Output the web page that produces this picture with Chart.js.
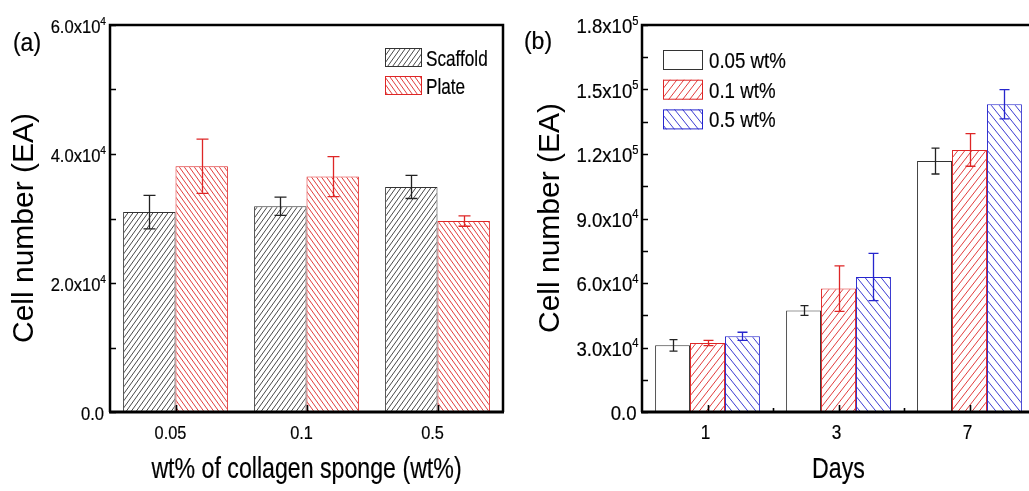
<!DOCTYPE html>
<html>
<head>
<meta charset="utf-8">
<script src="https://cdn.jsdelivr.net/npm/chart.js@4.4.1/dist/chart.umd.min.js"></script>
<style>
  html, body { margin: 0; padding: 0; background: #fff; overflow: hidden; }
  #wrap { position: relative; width: 1029px; height: 491px; overflow: hidden; background: #fff; }
  #ca { position: absolute; left: 0; top: 0; }
  #cb { position: absolute; left: 515px; top: 0; }
</style>
</head>
<body>
<div id="wrap">
  <canvas id="ca" width="515" height="491"></canvas>
  <canvas id="cb" width="530" height="491"></canvas>
</div>
<script>
// ---- (a) cell number vs collagen sponge concentration ----
const concCategories = ['0.05', '0.1', '0.5'];
const scaffoldCells = [31000, 31900, 34900];
const scaffoldErr   = [2600, 1400, 1800];
const plateCells    = [38100, 36500, 29600];
const plateErr      = [4200, 3100, 800];
const concTickValues = [0, 20000, 40000, 60000];
const concTickLabels = ['0.0', '2.0x10⁴', '4.0x10⁴', '6.0x10⁴'];

// ---- (b) cell number vs culture days ----
const dayCategories = ['1', '3', '7'];
const cells005 = [31000, 47200, 116700];
const err005   = [2700, 2300, 6000];
const cells01  = [32100, 57400, 121900];
const err01    = [1200, 10600, 7600];
const cells05  = [35200, 62800, 143100];
const err05    = [1900, 11000, 6800];
const dayTickValues = [0, 30000, 60000, 90000, 120000, 150000, 180000];
const dayTickLabels = ['0.0', '3.0x10⁴', '6.0x10⁴', '9.0x10⁴', '1.2x10⁵', '1.5x10⁵', '1.8x10⁵'];

const FONT = "'Liberation Sans', Arial, sans-serif";
const RED = 'rgb(222,38,38)';
const BLUE = 'rgb(38,38,205)';
const DARK = '#333';
const SUP = '⁰¹²³⁴⁵⁶⁷⁸⁹';

Chart.defaults.font.family = FONT;
Chart.defaults.color = '#000';

// diagonal hatch fill: '/' rises to the right, '\' falls to the right
function hatch(ctx, color, dir, w, h) {
  const c = document.createElement('canvas');
  c.width = w; c.height = h;
  const g = c.getContext('2d');
  g.fillStyle = '#fff';
  g.fillRect(0, 0, w, h);
  g.strokeStyle = color;
  g.lineWidth = 0.9;
  g.beginPath();
  for (let k = -1; k <= 1; k++) {
    if (dir === '/') { g.moveTo(k * w, h); g.lineTo((k + 1) * w, 0); }
    else { g.moveTo(k * w, 0); g.lineTo((k + 1) * w, h); }
  }
  g.stroke();
  return ctx.createPattern(c, 'repeat');
}

// horizontally condensed text, lightly emboldened
function sqText(ctx, text, x, y, size, sx, align) {
  ctx.save();
  ctx.translate(x, y);
  ctx.scale(sx, 1);
  ctx.font = size + 'px ' + FONT;
  ctx.textAlign = align;
  ctx.textBaseline = 'alphabetic';
  ctx.fillStyle = '#000';
  ctx.strokeStyle = '#000';
  ctx.lineWidth = 0.2;
  ctx.fillText(text, 0, 0);
  ctx.strokeText(text, 0, 0);
  ctx.restore();
}
function sqWidth(ctx, text, size, sx) {
  ctx.save();
  ctx.font = size + 'px ' + FONT;
  const w = ctx.measureText(text).width * sx;
  ctx.restore();
  return w;
}

// mean ± SD whiskers drawn on top of the bars
const errorBars = {
  id: 'errorBars',
  afterDatasetsDraw(chart) {
    const { ctx } = chart;
    const y = chart.scales.y;
    chart.data.datasets.forEach((ds, i) => {
      const meta = chart.getDatasetMeta(i);
      meta.data.forEach((bar, j) => {
        const v = ds.data[j], e = ds.errors[j];
        const top = y.getPixelForValue(v + e);
        const bot = y.getPixelForValue(v - e);
        const half = ds.capWidth / 2;
        const x = Math.round(bar.x) + 0.5;
        ctx.save();
        ctx.strokeStyle = ds.errorColor;
        ctx.lineWidth = 1.3;
        ctx.beginPath();
        ctx.moveTo(x, top); ctx.lineTo(x, bot);
        ctx.moveTo(x - half, top); ctx.lineTo(x + half, top);
        ctx.moveTo(x - half, bot); ctx.lineTo(x + half, bot);
        ctx.stroke();
        ctx.restore();
      });
    });
  }
};

// closed axis frame with inward major / minor ticks
const frame = {
  id: 'frame',
  afterDatasetsDraw(chart, args, o) {
    const { ctx, chartArea: a } = chart;
    const x = chart.scales.x, y = chart.scales.y;
    ctx.save();
    ctx.strokeStyle = '#000';
    ctx.lineWidth = 1.6;
    ctx.beginPath();
    for (let v = y.min; v <= y.max + 1e-6; v += o.minorStep) {
      const py = Math.round(y.getPixelForValue(v)) + 0.5;
      ctx.moveTo(a.left, py); ctx.lineTo(a.left + 6, py);
    }
    x.ticks.forEach((t, i) => {
      const px = Math.round(x.getPixelForTick(i)) + 0.5;
      ctx.moveTo(px, a.bottom); ctx.lineTo(px, a.bottom - 7);
    });
    if (o.xMinor) {
      for (let i = 1; i < x.ticks.length; i++) {
        const px = Math.round((x.getPixelForTick(i - 1) + x.getPixelForTick(i)) / 2) + 0.5;
        ctx.moveTo(px, a.bottom); ctx.lineTo(px, a.bottom - 4);
      }
    }
    ctx.stroke();
    ctx.lineWidth = 2.5;
    ctx.beginPath();
    ctx.moveTo(a.left, a.bottom); ctx.lineTo(a.left, a.top);
    ctx.lineTo(a.right, a.top); ctx.lineTo(a.right, a.bottom);
    ctx.stroke();
    ctx.lineWidth = 3;
    ctx.beginPath();
    ctx.moveTo(a.left - 1, a.bottom); ctx.lineTo(a.right + 1, a.bottom);
    ctx.stroke();
    ctx.restore();
  }
};

// legend boxes filled with the same hatch as the bars
const boxLegend = {
  id: 'boxLegend',
  afterDatasetsDraw(chart, args, o) {
    const ctx = chart.ctx;
    chart.data.datasets.forEach((ds, i) => {
      const bx = o.x, by = o.y + i * o.gap;
      ctx.save();
      ctx.fillStyle = ds.backgroundColor;
      ctx.fillRect(bx, by, o.w, o.h);
      ctx.strokeStyle = ds.borderColor;
      ctx.lineWidth = 1;
      ctx.strokeRect(bx + 0.5, by + 0.5, o.w - 1, o.h - 1);
      ctx.restore();
      sqText(ctx, ds.label, bx + o.w + o.textGap, by + o.h / 2 + o.baseShift, o.size, o.sx, 'left');
    });
  }
};

// tick labels, axis titles and panel letter
function axisText(cfg) {
  return {
    id: 'axisText',
    afterDraw(chart) {
      const { ctx, chartArea: a } = chart;
      const x = chart.scales.x, y = chart.scales.y;
      // y tick labels with raised exponent
      y.ticks.forEach(t => {
        const label = cfg.tickLabels[cfg.tickValues.indexOf(t.value)];
        if (label === undefined) return;
        const py = y.getPixelForValue(t.value) + cfg.yBase;
        const last = label.slice(-1);
        const k = SUP.indexOf(last);
        const xr = a.left - cfg.yPad;
        if (k >= 0) {
          const base = label.slice(0, -1);
          const ew = sqWidth(ctx, String(k), cfg.expSize, cfg.ySx);
          sqText(ctx, base, xr - ew, py, cfg.ySize, cfg.ySx, 'right');
          sqText(ctx, String(k), xr - ew, py - cfg.expRaise, cfg.expSize, cfg.ySx, 'left');
        } else {
          sqText(ctx, label, xr - cfg.zeroShift, py, cfg.ySize, cfg.ySx, 'right');
        }
      });
      // x category labels
      x.getLabels().forEach((lab, i) => {
        sqText(ctx, lab, x.getPixelForTick(i) + cfg.xShift, cfg.xBase, cfg.xSize, cfg.xSx, 'center');
      });
      // x title
      sqText(ctx, cfg.xTitle, (a.left + a.right) / 2, cfg.xTitleBase, 29.5, 0.785, 'center');
      // panel letter
      sqText(ctx, cfg.letter, cfg.letterX, cfg.letterY, cfg.letterSize, cfg.letterSx, 'center');
      // rotated y title
      ctx.save();
      ctx.translate(cfg.yTitleX, cfg.yTitleY);
      ctx.rotate(-Math.PI / 2);
      ctx.font = '30px ' + FONT;
      ctx.textAlign = 'center';
      ctx.textBaseline = 'middle';
      ctx.fillStyle = '#000';
      ctx.fillText(cfg.yTitle, 0, 0);
      ctx.restore();
    }
  };
}

function baseOptions(cfg) {
  return {
    responsive: false,
    animation: false,
    layout: { padding: { left: 0, top: 25, right: cfg.padRight, bottom: 0 } },
    plugins: {
      legend: { display: false },
      tooltip: { enabled: false },
      frame: { minorStep: cfg.minorStep, xMinor: cfg.xMinor },
      boxLegend: cfg.legend
    },
    scales: {
      x: {
        type: 'category',
        offset: true,
        grid: { display: false, drawTicks: false },
        border: { display: false },
        ticks: { display: false },
        afterFit(s) { s.height = 79; }
      },
      y: {
        min: 0,
        max: cfg.yMax,
        grid: { display: false, drawTicks: false },
        border: { display: false },
        afterBuildTicks(s) { s.ticks = cfg.tickValues.map(v => ({ value: v })); },
        ticks: { display: false },
        afterFit(s) { s.width = cfg.yWidth; }
      }
    }
  };
}

// ---- panel (a) ----
const ctxA = document.getElementById('ca').getContext('2d');
new Chart(ctxA, {
  type: 'bar',
  data: {
    labels: concCategories,
    datasets: [
      {
        label: 'Scaffold', data: scaffoldCells, errors: scaffoldErr,
        backgroundColor: hatch(ctxA, DARK, '/', 5, 7), borderColor: DARK, borderWidth: 1,
        errorColor: '#222', capWidth: 12,
        categoryPercentage: 0.8, barPercentage: 1.0
      },
      {
        label: 'Plate', data: plateCells, errors: plateErr,
        backgroundColor: hatch(ctxA, RED, '\\', 5, 7), borderColor: RED, borderWidth: 1,
        errorColor: RED, capWidth: 12,
        categoryPercentage: 0.8, barPercentage: 1.0
      }
    ]
  },
  options: baseOptions({
    padRight: 12, yWidth: 110, yMax: 60000, minorStep: 10000, xMinor: false,
    tickValues: concTickValues,
    legend: { x: 385, y: 48, w: 37, h: 19, gap: 28, textGap: 4, size: 22, sx: 0.78, baseShift: 8 }
  }),
  plugins: [errorBars, frame, boxLegend, axisText({
    tickValues: concTickValues, tickLabels: concTickLabels,
    ySize: 18, ySx: 0.92, yPad: 4, yBase: 7.5, expSize: 11, expRaise: 7.5, zeroShift: 2,
    xSize: 19, xSx: 0.86, xShift: -5, xBase: 438.5,
    xTitle: 'wt% of collagen sponge (wt%)', xTitleBase: 477.5,
    letter: '(a)', letterX: 27, letterY: 51, letterSize: 25, letterSx: 0.92,
    yTitle: 'Cell number (EA)', yTitleX: 25, yTitleY: 228
  })]
});

// ---- panel (b) ----
const ctxB = document.getElementById('cb').getContext('2d');
new Chart(ctxB, {
  type: 'bar',
  data: {
    labels: dayCategories,
    datasets: [
      {
        label: '0.05 wt%', data: cells005, errors: err005,
        backgroundColor: '#fff', borderColor: '#333', borderWidth: 1,
        errorColor: '#222', capWidth: 8,
        categoryPercentage: 0.8, barPercentage: 1.0
      },
      {
        label: '0.1 wt%', data: cells01, errors: err01,
        backgroundColor: hatch(ctxB, RED, '/', 7, 9), borderColor: RED, borderWidth: 1,
        errorColor: RED, capWidth: 10,
        categoryPercentage: 0.8, barPercentage: 1.0
      },
      {
        label: '0.5 wt%', data: cells05, errors: err05,
        backgroundColor: hatch(ctxB, BLUE, '\\', 8, 10), borderColor: BLUE, borderWidth: 1,
        errorColor: BLUE, capWidth: 10,
        categoryPercentage: 0.8, barPercentage: 1.0
      }
    ]
  },
  options: baseOptions({
    padRight: 10, yWidth: 127, yMax: 180000, minorStep: 15000, xMinor: true,
    tickValues: dayTickValues,
    legend: { x: 148, y: 50, w: 40, h: 20, gap: 29.7, textGap: 6, size: 22, sx: 0.85, baseShift: 8 }
  }),
  plugins: [errorBars, frame, boxLegend, axisText({
    tickValues: dayTickValues, tickLabels: dayTickLabels,
    ySize: 20, ySx: 0.93, yPad: 3.5, yBase: 8, expSize: 12, expRaise: 8.5, zeroShift: 2,
    xSize: 20, xSx: 0.86, xShift: -2, xBase: 439,
    xTitle: 'Days', xTitleBase: 478,
    letter: '(b)', letterX: 23, letterY: 48.5, letterSize: 23, letterSx: 1.0,
    yTitle: 'Cell number (EA)', yTitleX: 36, yTitleY: 218
  })]
});
</script>
</body>
</html>
